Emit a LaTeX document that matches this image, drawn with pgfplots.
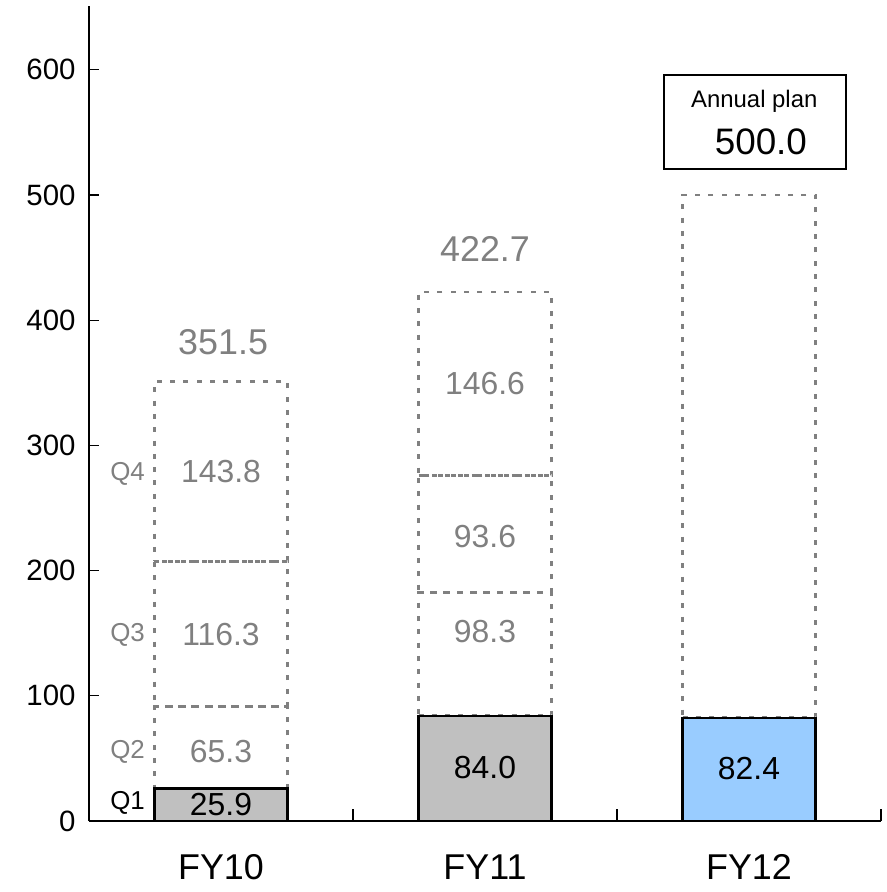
\documentclass[border=0pt]{standalone}
\usepackage{pgfplots}
\pgfplotsset{compat=1.18}
\usepackage{fontspec}
\setmainfont{Liberation Sans}

\definecolor{barGray}{HTML}{C0C0C0}
\definecolor{planBlue}{HTML}{99CCFF}
\definecolor{dashGray}{HTML}{808080}

\tikzset{
  quarter/.style={fill=none, draw=dashGray, line width=2.8bp, dash pattern=on 5bp off 8.3bp},
  actual/.style={draw=black, line width=2.2bp},
  seglabel/.style={font=\fontsize{32}{34}\selectfont, text=dashGray, inner sep=0pt},
  qlabel/.style={font=\fontsize{26}{28}\selectfont, text=dashGray, inner sep=0pt},
}

\begin{document}
\begin{tikzpicture}
\path[use as bounding box] (-89bp,-71bp) rectangle (798bp,821bp);
\begin{axis}[
  at={(0,0)}, anchor=south west,
  scale only axis, width=792bp, height=815bp,
  xmin=-0.5, xmax=2.5, ymin=0, ymax=651,
  axis lines=left,
  axis line style={-, line width=1.8bp, black},
  ybar stacked, bar width=133bp,
  ytick={0,100,...,600},
  xtick={0,1,2}, xticklabels={FY10,FY11,FY12},
  xtick style={draw=none},
  extra x ticks={0.5,1.5,2.5},
  extra x tick labels={},
  extra x tick style={xtick style={draw=black, line width=1.3bp}, major tick length=12bp},
  ytick style={line width=1.3bp, black},
  major tick length=10bp,
  tick align=inside,
  /pgf/number format/assume math mode=true,
  yticklabel style={font=\fontsize{29.5}{31}\selectfont, xshift=-10bp},
  xticklabel style={font=\fontsize{36}{40}\selectfont, yshift=-30bp},
  clip=false,
  after end axis/.code={
    % segment values
    \node[seglabel, text=black] at (axis cs:0,12.8) {25.9};
    \node[seglabel] at (axis cs:0,55.2) {65.3};
    \node[seglabel] at (axis cs:0,148.8) {116.3};
    \node[seglabel] at (axis cs:0,279.0) {143.8};
    \node[seglabel, text=black] at (axis cs:1,42.4) {84.0};
    \node[seglabel] at (axis cs:1,151.2) {98.3};
    \node[seglabel] at (axis cs:1,227.2) {93.6};
    \node[seglabel] at (axis cs:1,349.6) {146.6};
    \node[seglabel, text=black] at (axis cs:2,42.2) {82.4};
    % annual totals
    \node[seglabel, font=\fontsize{36}{38}\selectfont] at (axis cs:0.008,382.4) {351.5};
    \node[seglabel, font=\fontsize{36}{38}\selectfont] at (axis cs:1.0,456.8) {422.7};
    % quarter names
    \node[qlabel, text=black] at (axis cs:-0.354,14.4) {Q1};
    \node[qlabel] at (axis cs:-0.354,55.2) {Q2};
    \node[qlabel] at (axis cs:-0.354,148.8) {Q3};
    \node[qlabel] at (axis cs:-0.354,277.6) {Q4};
    % annual plan box
    \node[draw=black, line width=1.8bp, minimum width=182bp, minimum height=94bp, inner sep=0pt] at (axis cs:2.023,558.4) {};
    \node[font=\fontsize{24}{26}\selectfont, inner sep=0pt] at (axis cs:2.02,574.5) {Annual plan};
    \node[font=\fontsize{37}{40}\selectfont, inner sep=0pt] at (axis cs:2.045,542.4) {500.0};
  },
]
% first quarter (actual results)
\addplot[fill=planBlue, actual] coordinates {(0,0) (1,0) (2,82.4)};
\addplot[fill=barGray, actual] coordinates {(0,25.9) (1,84.0) (2,0)};
% remaining quarters / plan
\addplot[quarter] coordinates {(0,65.3) (1,98.3) (2,417.6)};
\addplot[quarter] coordinates {(0,116.3) (1,93.6)};
\addplot[quarter] coordinates {(0,143.8) (1,146.6)};
\end{axis}
\end{tikzpicture}
\end{document}
